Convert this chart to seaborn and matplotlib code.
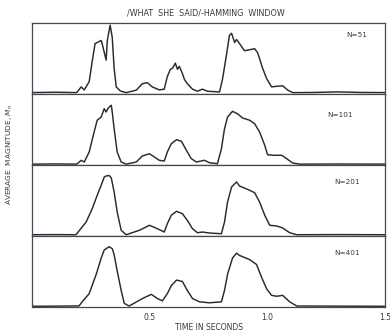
import matplotlib
matplotlib.use("Agg")
import matplotlib.pyplot as plt
from matplotlib.ticker import MultipleLocator, FixedLocator
import pandas as pd
import seaborn as sns

# Short-time average magnitude of the utterance /what she said/,
# Hamming window, for four window lengths N.
window_labels = ["N=51", "N=101", "N=201", "N=401"]

t_n51 = [0.0, 0.1, 0.19, 0.209, 0.222, 0.243, 0.256, 0.268, 0.277, 0.294, 0.298,
         0.315, 0.320, 0.332, 0.341, 0.349, 0.358, 0.375, 0.40, 0.443, 0.469,
         0.49, 0.511, 0.541, 0.562, 0.575, 0.588, 0.597, 0.609, 0.618, 0.626,
         0.639, 0.648, 0.66, 0.682, 0.703, 0.724, 0.746, 0.797, 0.81, 0.827,
         0.839, 0.848, 0.861, 0.869, 0.882, 0.903, 0.946, 0.959, 0.98, 0.997,
         1.018, 1.044, 1.065, 1.087, 1.108, 1.2, 1.3, 1.4, 1.5]
m_n51 = [0.02, 0.025, 0.02, 0.10, 0.058, 0.174, 0.464, 0.71, 0.725, 0.754, 0.71,
         0.478, 0.754, 0.97, 0.797, 0.362, 0.10, 0.043, 0.019, 0.054, 0.145,
         0.16, 0.10, 0.058, 0.068, 0.246, 0.348, 0.362, 0.435, 0.348, 0.39,
         0.29, 0.203, 0.145, 0.068, 0.039, 0.068, 0.039, 0.029, 0.217, 0.565,
         0.826, 0.855, 0.725, 0.768, 0.71, 0.609, 0.638, 0.58, 0.362, 0.217,
         0.10, 0.11, 0.116, 0.054, 0.019, 0.022, 0.03, 0.022, 0.02]

t_n101 = [0.0, 0.1, 0.19, 0.209, 0.222, 0.243, 0.264, 0.277, 0.294, 0.307, 0.315,
          0.324, 0.337, 0.341, 0.349, 0.362, 0.379, 0.40, 0.443, 0.469, 0.499,
          0.52, 0.541, 0.562, 0.575, 0.592, 0.614, 0.635, 0.656, 0.677, 0.699,
          0.712, 0.733, 0.754, 0.788, 0.805, 0.818, 0.831, 0.852, 0.873, 0.895,
          0.925, 0.946, 0.967, 0.989, 1.001, 1.023, 1.061, 1.082, 1.108, 1.138,
          1.3, 1.5]
m_n101 = [0.012, 0.015, 0.012, 0.066, 0.042, 0.183, 0.465, 0.63, 0.676, 0.793, 0.746,
          0.803, 0.841, 0.746, 0.511, 0.183, 0.042, 0.012, 0.042, 0.127, 0.159,
          0.113, 0.066, 0.056, 0.183, 0.30, 0.356, 0.334, 0.207, 0.089, 0.042,
          0.052, 0.066, 0.032, 0.018, 0.23, 0.511, 0.676, 0.756, 0.722, 0.662,
          0.63, 0.582, 0.465, 0.277, 0.145, 0.137, 0.137, 0.089, 0.028, 0.012,
          0.014, 0.012]

t_n201 = [0.0, 0.1, 0.187, 0.23, 0.256, 0.277, 0.294, 0.307, 0.315, 0.328, 0.337,
          0.349, 0.362, 0.379, 0.40, 0.456, 0.499, 0.533, 0.562, 0.575, 0.592,
          0.614, 0.639, 0.66, 0.682, 0.703, 0.724, 0.754, 0.805, 0.818, 0.831,
          0.848, 0.869, 0.882, 0.925, 0.946, 0.967, 0.989, 1.01, 1.04, 1.065,
          1.095, 1.125, 1.3, 1.5]
m_n201 = [0.018, 0.02, 0.018, 0.197, 0.385, 0.573, 0.714, 0.831, 0.845, 0.852, 0.817,
          0.62, 0.338, 0.08, 0.018, 0.08, 0.151, 0.103, 0.056, 0.173, 0.292,
          0.348, 0.314, 0.221, 0.103, 0.046, 0.056, 0.042, 0.032, 0.197, 0.479,
          0.69, 0.761, 0.704, 0.644, 0.61, 0.479, 0.292, 0.151, 0.141, 0.113,
          0.046, 0.018, 0.02, 0.018]

t_n401 = [0.0, 0.1, 0.2, 0.213, 0.243, 0.273, 0.294, 0.307, 0.328, 0.341, 0.349,
          0.362, 0.379, 0.392, 0.413, 0.469, 0.507, 0.533, 0.554, 0.575, 0.592,
          0.614, 0.639, 0.66, 0.682, 0.712, 0.754, 0.805, 0.818, 0.831, 0.852,
          0.869, 0.882, 0.925, 0.954, 0.976, 0.997, 1.018, 1.04, 1.065, 1.095,
          1.125, 1.3, 1.5]
m_n401 = [0.01, 0.012, 0.015, 0.073, 0.188, 0.462, 0.689, 0.804, 0.849, 0.822, 0.736,
          0.507, 0.233, 0.051, 0.014, 0.119, 0.178, 0.119, 0.086, 0.188, 0.301,
          0.379, 0.36, 0.233, 0.119, 0.073, 0.059, 0.073, 0.233, 0.462, 0.689,
          0.758, 0.726, 0.667, 0.599, 0.415, 0.256, 0.164, 0.151, 0.164, 0.073,
          0.014, 0.012, 0.01]

series = [(t_n51, m_n51), (t_n101, m_n101), (t_n201, m_n201), (t_n401, m_n401)]
label_pos = [(0.89, 0.83), (0.836, 0.70), (0.855, 0.76), (0.855, 0.76)]
x_tick_labels = ["0.5", "1.0", "1.5"]
x_tick_values = [0.5, 1.0, 1.5]

sns.set_theme(style="white")
plt.rcParams["font.family"] = ["DejaVu Sans"]

ink = "#2a2a2a"
frame = "#4a4550"
text_c = "#3a3a3a"

fig = plt.figure(figsize=(3.9, 3.33), dpi=100)
left, right = 32 / 390, 385 / 390
top, bottom = 1 - 23 / 333, 1 - 307 / 333
h = (top - bottom) / 4

for i, ((t, m), lab, (lx, ly)) in enumerate(zip(series, window_labels, label_pos)):
    ax = fig.add_axes([left, top - (i + 1) * h, right - left, h])
    df = pd.DataFrame({"time": t, "mag": m})
    sns.lineplot(data=df, x="time", y="mag", ax=ax, color=ink, linewidth=1.05,
                 estimator=None, sort=False, solid_joinstyle="round",
                 solid_capstyle="round")
    ax.set_xlim(0, 1.5)
    ax.set_ylim(0, 1.0)
    ax.set_xlabel("")
    ax.set_ylabel("")
    ax.set_yticks([])
    for s in ax.spines.values():
        s.set_color(frame)
        s.set_linewidth(0.9)
    ax.text(lx, ly, lab, transform=ax.transAxes, fontsize=5.2, color=text_c,
            ha="left", va="center")
    if i < 3:
        ax.set_xticks([])
    else:
        ax.xaxis.set_major_locator(FixedLocator(x_tick_values))
        ax.set_xticklabels(x_tick_labels)
        ax.xaxis.set_minor_locator(MultipleLocator(0.1))
        ax.tick_params(axis="x", which="both", direction="in", length=2.5,
                       width=0.7, color=frame, labelsize=5.5, labelcolor=text_c,
                       pad=4)

fig.text(0.535, 1 - 327 / 333, "TIME IN SECONDS", fontsize=5.5, color=text_c,
         ha="center", va="center")
fig.text(0.527, 1 - 13 / 333, "/WHAT  SHE  SAID/-HAMMING  WINDOW", fontsize=5.8,
         color=text_c, ha="center", va="center")
fig.text(10 / 390, 1 - 155 / 333, "AVERAGE  MAGNITUDE, $M_n$", fontsize=5.3,
         color=text_c, ha="center", va="center", rotation=90)

fig.savefig("out.png", dpi=100)
